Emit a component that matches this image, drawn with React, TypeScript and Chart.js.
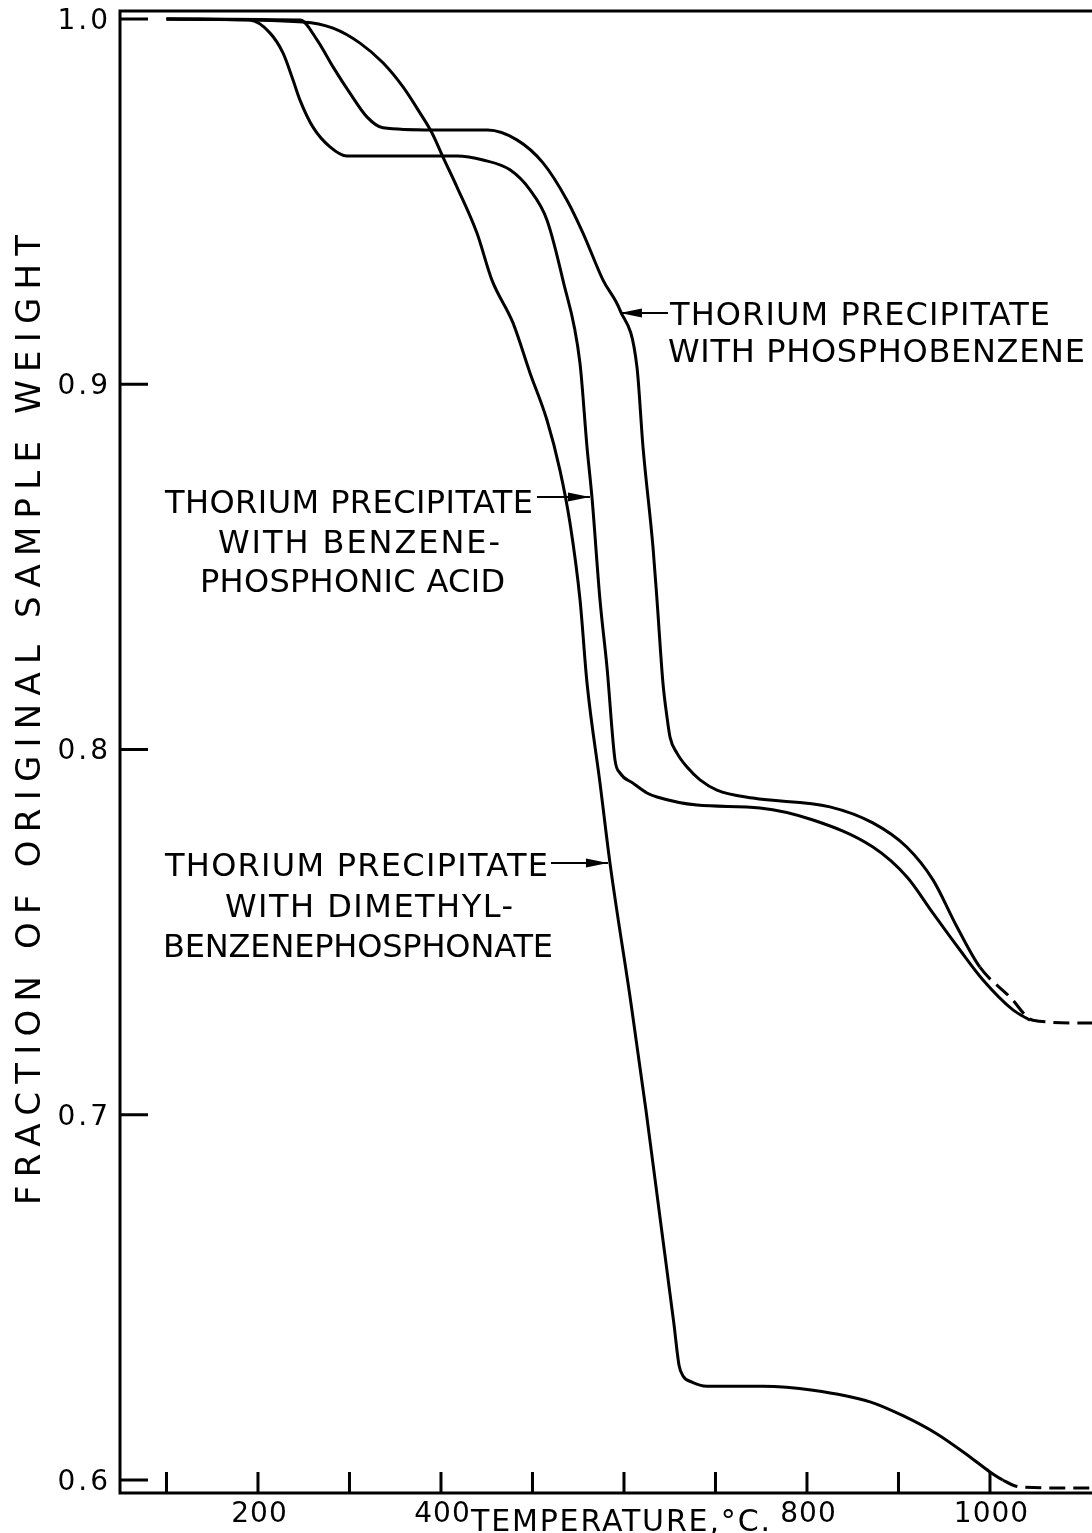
import React, { useEffect, useRef } from 'react';
import { Chart, registerables } from 'chart.js';

Chart.register(...registerables);

// ---------- data (temperature °C, fraction of original sample weight) ----------
const phosphobenzeneT = [100, 246, 264.5, 282, 300.5, 319, 336.6, 391, 451, 483, 511.5, 537.7, 555.2, 577.1, 595.6, 614.2, 620.8, 631.7, 636.1, 642.6, 647, 650.3, 657.9, 668.9, 683.1, 701.6, 741, 825, 872, 909, 937.7, 964, 989, 1022, 1047, 1102, 1112];
const phosphobenzeneW = [1.0, 0.9997, 0.9943, 0.9869, 0.9797, 0.9732, 0.9702, 0.9696, 0.9696, 0.9669, 0.9606, 0.9504, 0.9414, 0.9285, 0.9203, 0.9047, 0.8828, 0.8554, 0.8409, 0.8182, 0.8089, 0.8034, 0.799, 0.7952, 0.7917, 0.7889, 0.7867, 0.7843, 0.7799, 0.7733, 0.7643, 0.7514, 0.7404, 0.7322, 0.7259, 0.7251, 0.7251];
const phosphobenzeneDashFrom = 989;

const phosphonicAcidT = [100, 191, 213, 227.3, 238.3, 245.9, 260.1, 278.7, 297.3, 417.5, 445.9, 475.4, 497.3, 515.8, 533.3, 551.9, 559.6, 565, 573.8, 581.4, 590.2, 595.6, 609.8, 625.1, 636.1, 679.8, 748.6, 806.6, 872.1, 909.3, 937.7, 967.2, 992.4, 1025.1, 1043.7];
const phosphonicAcidW = [1.0, 0.9997, 0.9962, 0.9907, 0.9833, 0.9778, 0.9704, 0.965, 0.9625, 0.9625, 0.9614, 0.9587, 0.9532, 0.945, 0.9285, 0.9058, 0.8828, 0.8691, 0.8409, 0.8226, 0.7971, 0.7936, 0.7908, 0.7881, 0.787, 0.7848, 0.784, 0.7807, 0.7733, 0.7651, 0.7552, 0.7451, 0.7369, 0.7287, 0.7259];
const phosphonicAcidDashFrom = 2000;

const dimethylT = [100, 249, 282, 311.5, 336.6, 358.5, 377, 390.2, 402.2, 417.5, 439.3, 455.7, 478.7, 497.3, 515.8, 530, 541, 552, 559.6, 573.8, 584.7, 607.6, 624, 639.3, 654.6, 660.1, 664.5, 674.3, 690.7, 751.9, 806.6, 868.9, 904.9, 942.1, 978.2, 1000, 1014, 1032.8, 1098, 1112];
const dimethylW = [1.0, 0.9992, 0.9975, 0.9934, 0.988, 0.9814, 0.9743, 0.9688, 0.9622, 0.954, 0.9414, 0.9285, 0.9168, 0.9031, 0.8902, 0.8765, 0.862, 0.8409, 0.8182, 0.7908, 0.7689, 0.7306, 0.7013, 0.672, 0.6427, 0.6315, 0.6285, 0.6268, 0.6257, 0.6257, 0.6246, 0.6214, 0.6176, 0.6126, 0.6063, 0.6022, 0.6, 0.5981, 0.5978, 0.5978];
const dimethylDashFrom = 1014;

// ---------- axes ----------
const temperatureMin = 49.2;
const temperatureMax = 1111.5;
const weightMin = 0.59644;
const weightMax = 1.00219;
const temperatureTicks = [100, 200, 300, 400, 500, 600, 700, 800, 900, 1000];
const temperatureLabels = ['', '200', '', '400', '', '', '', '800', '', '1000'];
const weightTicks = [0.6, 0.7, 0.8, 0.9, 1.0];
const weightLabels = ['0.6', '0.7', '0.8', '0.9', '1.0'];
const xAxisTitle = 'TEMPERATURE,°C.';
const xAxisTitleAt = 600;
const yAxisTitle = 'FRACTION OF ORIGINAL SAMPLE WEIGHT';
const yAxisTitleAt = 0.8081;

// ---------- curve labels (anchored in data coordinates) ----------
const noteLines = [
  ['THORIUM PRECIPITATE', 'WITH PHOSPHOBENZENE'],
  ['THORIUM PRECIPITATE', 'WITH BENZENE-', 'PHOSPHONIC ACID'],
  ['THORIUM PRECIPITATE', 'WITH DIMETHYL-', 'BENZENEPHOSPHONATE'],
];
const noteLeftT = [[650.3, 648.1], [98.4, 156.3, 136.6], [98.4, 163.9, 96.2]];
const noteRightT = [[1065.6, 1103.8], [500.5, 464.5, 470], [516.9, 478.7, 522.4]];
const noteBaseW = [[0.91622, 0.90609], [0.86475, 0.8538, 0.84312], [0.76537, 0.75414, 0.74319]];
const arrowFromT = [648.1, 504.9, 520.2];
const arrowToT = [595.6, 562.8, 582.5];
const arrowW = [0.91951, 0.86913, 0.76893];

const FONT = '"DejaVu Sans", Verdana, sans-serif';

function drawSpaced(ctx: any, text: string, x: number, y: number, ls: number, align: string) {
  ctx.letterSpacing = '0px';
  const w0 = ctx.measureText(text).width;
  const total = w0 + ls * (text.length - 1);
  const left = align === 'left' ? x : align === 'right' ? x - total : x - total / 2;
  ctx.letterSpacing = ls + 'px';
  ctx.textAlign = 'left';
  ctx.fillText(text, left, y);
  ctx.letterSpacing = '0px';
}

function drawFitted(ctx: any, text: string, left: number, right: number, y: number) {
  ctx.letterSpacing = '0px';
  const w0 = ctx.measureText(text).width;
  const ls = (right - left - w0) / Math.max(1, text.length - 1);
  drawSpaced(ctx, text, left, y, ls, 'left');
}

const decorations = {
  id: 'decorations',
  beforeDraw(chart: any) {
    const { ctx, width, height } = chart;
    ctx.save();
    ctx.fillStyle = '#ffffff';
    ctx.fillRect(0, 0, width, height);
    ctx.restore();
  },
  afterDraw(chart: any) {
    const { ctx, chartArea: a, scales } = chart;
    const xs = scales.x;
    const ys = scales.y;
    ctx.save();
    ctx.strokeStyle = '#000';
    ctx.fillStyle = '#000';
    ctx.lineWidth = 3;
    ctx.lineCap = 'butt';

    // frame
    ctx.beginPath();
    ctx.moveTo(a.left - 1.5, a.top);
    ctx.lineTo(a.right, a.top);
    ctx.moveTo(a.left, a.top);
    ctx.lineTo(a.left, a.bottom);
    ctx.moveTo(a.left - 1.5, a.bottom);
    ctx.lineTo(a.right, a.bottom);
    ctx.stroke();

    // inward ticks
    ctx.beginPath();
    xs.ticks.forEach((t: any) => {
      const px = xs.getPixelForValue(t.value);
      ctx.moveTo(px, a.bottom);
      ctx.lineTo(px, a.bottom - 21);
    });
    ys.ticks.forEach((t: any) => {
      const py = ys.getPixelForValue(t.value);
      ctx.moveTo(a.left, py);
      ctx.lineTo(a.left + 28, py);
    });
    ctx.stroke();

    // tick labels
    ctx.font = `28px ${FONT}`;
    ctx.textBaseline = 'alphabetic';
    ys.ticks.forEach((t: any, i: number) => {
      const py = ys.getPixelForValue(t.value);
      drawSpaced(ctx, weightLabels[i], a.left - 12, py + 10, 3, 'right');
    });
    xs.ticks.forEach((t: any, i: number) => {
      const lbl = temperatureLabels[i];
      if (!lbl) return;
      const px = xs.getPixelForValue(t.value);
      drawSpaced(ctx, lbl, px + 1, a.bottom + 29, 1, 'center');
    });

    // x-axis title
    ctx.font = `30px ${FONT}`;
    {
      const cx = xs.getPixelForValue(xAxisTitleAt);
      drawFitted(ctx, xAxisTitle, cx - 153, cx + 146, a.bottom + 38);
    }

    // y-axis title
    ctx.font = `34px ${FONT}`;
    {
      const cy = ys.getPixelForValue(yAxisTitleAt);
      ctx.save();
      ctx.translate(a.left - 92.5, cy);
      ctx.rotate(-Math.PI / 2);
      drawFitted(ctx, yAxisTitle, -485, 485, 12.5);
      ctx.restore();
    }

    // curve labels with arrows
    ctx.font = `32px ${FONT}`;
    ctx.textBaseline = 'alphabetic';
    noteLines.forEach((lines, n) => {
      lines.forEach((line, i) => {
        const l = xs.getPixelForValue(noteLeftT[n][i]);
        const r = xs.getPixelForValue(noteRightT[n][i]);
        const y = ys.getPixelForValue(noteBaseW[n][i]);
        drawFitted(ctx, line, l, r, y);
      });
      const x0 = xs.getPixelForValue(arrowFromT[n]);
      const x1 = xs.getPixelForValue(arrowToT[n]);
      const y = ys.getPixelForValue(arrowW[n]);
      const dir = Math.sign(x1 - x0);
      ctx.lineWidth = 2;
      ctx.beginPath();
      ctx.moveTo(x0, y);
      ctx.lineTo(x1, y);
      ctx.stroke();
      ctx.beginPath();
      ctx.moveTo(x1, y);
      ctx.lineTo(x1 - dir * 22, y - 4.5);
      ctx.lineTo(x1 - dir * 22, y + 4.5);
      ctx.closePath();
      ctx.fill();
    });

    ctx.restore();
  },
};

function series(t: number[], w: number[], dashFrom: number) {
  return {
    data: t.map((v, i) => ({ x: v, y: w[i] })),
    borderColor: '#000',
    borderWidth: 3,
    pointRadius: 0,
    fill: false,
    cubicInterpolationMode: 'monotone' as const,
    segment: {
      borderDash: (c: any) => (c.p0.parsed.x >= dashFrom - 0.01 ? [16, 8] : undefined),
    },
  };
}

export default function App() {
  const ref = useRef<HTMLCanvasElement | null>(null);

  useEffect(() => {
    if (!ref.current) return;
    const chart = new Chart(ref.current, {
      type: 'line',
      data: {
        datasets: [
          series(phosphobenzeneT, phosphobenzeneW, phosphobenzeneDashFrom),
          series(phosphonicAcidT, phosphonicAcidW, phosphonicAcidDashFrom),
          series(dimethylT, dimethylW, dimethylDashFrom),
        ] as any,
      },
      options: {
        animation: false,
        responsive: false,
        devicePixelRatio: 1,
        events: [],
        layout: { padding: { top: 11, left: 0, right: 0, bottom: 0 } },
        plugins: { legend: { display: false }, tooltip: { enabled: false } },
        scales: {
          x: {
            type: 'linear',
            min: temperatureMin,
            max: temperatureMax,
            grid: { display: false },
            border: { display: false },
            ticks: { display: false },
            afterBuildTicks: (s: any) => {
              s.ticks = temperatureTicks.map((v) => ({ value: v }));
            },
            afterFit: (s: any) => {
              s.height = 40;
            },
          },
          y: {
            type: 'linear',
            min: weightMin,
            max: weightMax,
            grid: { display: false },
            border: { display: false },
            ticks: { display: false },
            afterBuildTicks: (s: any) => {
              s.ticks = weightTicks.map((v) => ({ value: v }));
            },
            afterFit: (s: any) => {
              s.width = 120;
            },
          },
        },
      } as any,
      plugins: [decorations],
    });
    return () => chart.destroy();
  }, []);

  return (
    <div style={{ position: 'absolute', left: 0, top: 0, width: 1092, height: 1533, background: '#fff' }}>
      <canvas ref={ref} width={1092} height={1533} style={{ display: 'block', width: 1092, height: 1533 }} />
    </div>
  );
}
